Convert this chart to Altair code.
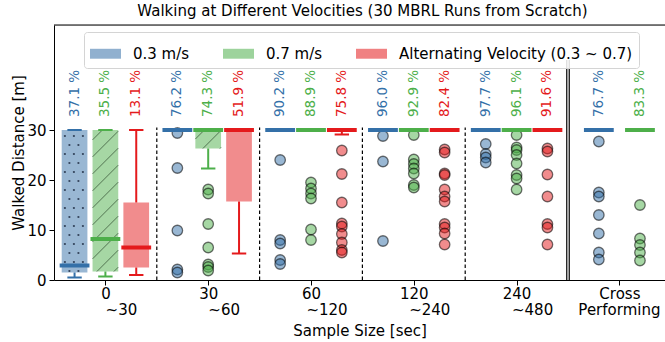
import altair as alt
import pandas as pd
import numpy as np

# ---------------- data ----------------
group_line1 = ["0", "30", "60", "120", "240", "Cross"]
group_line2 = ["~30", "~60", "~120", "~240", "~480", "Performing"]
series = ["0.3 m/s", "0.7 m/s", "Alternating Velocity (0.3 ~ 0.7)"]
colors = ["#3470a8", "#4daf4a", "#e41a1c"]

# success percentages per group (None = not run)
pct_03 = [37.1, 76.2, 90.2, 96.0, 97.7, 76.7]
pct_07 = [35.5, 74.3, 88.9, 92.9, 96.1, 83.3]
pct_alt = [13.1, 51.9, 75.8, 82.4, 91.6, None]

# box statistics per group: [whisker low, q1, median, q3, whisker high]
box_03 = [[0.5, 1.5, 2.9, 30, 30], [30, 30, 30, 30, 30], [30, 30, 30, 30, 30],
          [30, 30, 30, 30, 30], [30, 30, 30, 30, 30], [30, 30, 30, 30, 30]]
box_07 = [[0.7, 1.7, 8.2, 30, 30], [22.3, 26.3, 30, 30, 30], [30, 30, 30, 30, 30],
          [30, 30, 30, 30, 30], [30, 30, 30, 30, 30], [30, 30, 30, 30, 30]]
box_alt = [[1.0, 2.5, 6.5, 15.5, 30], [5.3, 15.7, 30, 30, 30], [29.1, 29.6, 30, 30, 30],
           [30, 30, 30, 30, 30], [30, 30, 30, 30, 30], None]

# outliers per group
fl_03 = [[], [29.4, 22.4, 9.9, 2.1, 1.5], [24.0, 8.0, 7.3, 4.0, 3.2],
         [28.8, 23.7, 7.8], [27.2, 25.2, 24.5, 23.5],
         [27.7, 17.5, 16.7, 13.0, 9.3, 5.5, 4.1]]
fl_07 = [[], [18.1, 17.3, 11.2, 6.5, 3.1, 2.6, 1.9], [19.5, 18.3, 17.3, 16.3, 10.1, 8.0],
         [29.0, 24.1, 23.2, 22.3, 21.3, 19.0, 18.5],
         [29.0, 26.5, 26.0, 25.0, 23.3, 21.0, 20.3, 18.1],
         [15.0, 8.3, 7.0, 5.5, 3.9]]
fl_alt = [[], [], [25.9, 21.2, 15.5, 11.3, 10.7, 9.2, 7.5, 6.0, 5.5],
          [26.1, 25.5, 21.3, 21.0, 18.1, 16.7, 15.7, 11.2, 10.5, 9.3, 7.1],
          [26.3, 25.7, 21.1, 16.7, 11.2, 10.5, 7.1], []]

# ---------------- layout ----------------
PAD_L, PAD_T, PAD_B = 54, 25, 62
W, H = 665 - PAD_L, 342 - PAD_T - PAD_B
XMIN = -0.5
XMAX = XMIN + W / 102.8
YMAX = 51
SX = W / (XMAX - XMIN)   # px per x unit
SY = H / YMAX            # px per y unit
BOX_W, MED_W, CAP_W = 0.25, 0.29, 0.14
FONT = "DejaVu Sans"

pcts = [pct_03, pct_07, pct_alt]
boxes = [box_03, box_07, box_alt]
fliers = [fl_03, fl_07, fl_alt]

box_rows, flier_rows, pct_rows = [], [], []
for g in range(len(group_line1)):
    present = [s for s in range(3) if boxes[s][g] is not None]
    offs = [-0.3, 0.0, 0.3] if len(present) == 3 else [-0.2, 0.2]
    for o, s in zip(offs, present):
        xc = g + o
        lo, q1, md, q3, hi = boxes[s][g]
        box_rows.append(dict(series=series[s], x=xc, xl=xc - BOX_W / 2, xh=xc + BOX_W / 2,
                             ml=xc - MED_W / 2, mh=xc + MED_W / 2,
                             cl=xc - CAP_W / 2, ch=xc + CAP_W / 2,
                             lo=lo, q1=q1, med=md, q3=q3, hi=hi))
        for v in fliers[s][g]:
            flier_rows.append(dict(series=series[s], x=xc, y=v))
        pct_rows.append(dict(series=series[s], x=xc, txt=f"{pcts[s][g]:.1f} %"))

box_df = pd.DataFrame(box_rows)
flier_df = pd.DataFrame(flier_rows)
pct_df = pd.DataFrame(pct_rows)
lab2_df = pd.DataFrame({"x": list(range(len(group_line2))), "lab": group_line2})

# textures (matplotlib hatches): dots for 0.3 m/s, '/' lines for 0.7 m/s
dot_rows, hatch_rows = [], []
for r in box_rows:
    if r["q3"] - r["q1"] <= 0.5:
        continue
    X0, X1 = r["xl"] * SX, r["xh"] * SX
    Y0, Y1 = r["q1"] * SY, r["q3"] * SY
    if r["series"] == series[0]:
        step = 9.0
        for i, Y in enumerate(np.arange(np.ceil(Y0 / step) * step, Y1 - 1, step)):
            shift = step / 2 if i % 2 else 0
            for X in np.arange(np.ceil((X0 - shift) / step) * step + shift, X1 - 1.5, step):
                if X > X0 + 1.5:
                    dot_rows.append(dict(x=X / SX, y=Y / SY))
    elif r["series"] == series[1]:
        step = 17.0
        for c in np.arange(np.floor((Y0 - X1) / step) * step, Y1 - X0 + step, step):
            xa = max(X0, Y0 - c)
            xb = min(X1, Y1 - c)
            if xb - xa > 0.5:
                hatch_rows.append(dict(x=xa / SX, y=(xa + c) / SY, x2=xb / SX, y2=(xb + c) / SY))
dot_df = pd.DataFrame(dot_rows)
hatch_df = pd.DataFrame(hatch_rows)

sep_df = pd.DataFrame({"x": [g + 0.5 for g in range(len(group_line1) - 2)]})
dbl_df = pd.DataFrame({"x": [len(group_line1) - 1.5 - 0.012, len(group_line1) - 1.5 + 0.012]})

# ---------------- encodings ----------------
xscale = alt.Scale(domain=[XMIN, XMAX], nice=False, zero=False)
yscale = alt.Scale(domain=[0, YMAX], nice=False, zero=True)
cscale = alt.Scale(domain=series, range=colors)

label_expr = "[" + ",".join("'%s'" % a for a in group_line1) + "][round(datum.value)]"

xaxis = alt.Axis(values=list(range(len(group_line1))), labelExpr=label_expr, grid=False,
                 tickSize=5, tickColor="black", domainColor="black", labelColor="black",
                 labelFont=FONT, labelFontSize=15, labelPadding=1,
                 labelBaseline="top", labelFlush=False, labelOverlap=False,
                 title="Sample Size [sec]", titleFont=FONT, titleFontSize=15,
                 titleFontWeight="normal", titleColor="black", titlePadding=22)
yaxis = alt.Axis(values=[0, 10, 20, 30], grid=False, tickSize=5, tickColor="black",
                 domainColor="black", labelColor="black", labelFont=FONT, labelFontSize=15,
                 labelPadding=3, labelFlush=False,
                 title="Walked Distance [m]", titleFont=FONT, titleFontSize=15,
                 titleFontWeight="normal", titleColor="black", titlePadding=0)


def X(field):
    return alt.X(field, type="quantitative", scale=xscale, axis=xaxis)


def Y(field):
    return alt.Y(field, type="quantitative", scale=yscale, axis=yaxis)


def YD(val):
    return alt.Y(datum=val, type="quantitative", scale=yscale, axis=yaxis)


legend = alt.Legend(title=None, orient="none", legendX=30, legendY=7, direction="horizontal",
                    symbolType="M-1,-0.32H1V0.32H-1Z", symbolSize=961, symbolOpacity=0.55,
                    symbolStrokeWidth=0, labelFont=FONT, labelFontSize=15, labelColor="black",
                    labelLimit=400, labelOffset=12, columnPadding=33, padding=6,
                    strokeColor="#d4d4d4", fillColor="rgba(255,255,255,0.85)", cornerRadius=3)

col_nl = alt.Color("series:N", scale=cscale, legend=None)
base_box = alt.Chart(box_df)

rects = base_box.mark_rect(opacity=0.5).encode(
    x=X("xl"), x2="xh", y=Y("q1"), y2="q3",
    color=alt.Color("series:N", scale=cscale, legend=legend),
)

layers = [rects]
if len(dot_df):
    layers.append(alt.Chart(dot_df).mark_circle(size=5, color="#27354d", opacity=0.9).encode(
        x=X("x"), y=Y("y")))
if len(hatch_df):
    layers.append(alt.Chart(hatch_df).mark_rule(color="#3c5a3c", strokeWidth=1, opacity=0.8).encode(
        x=X("x"), x2="x2", y=Y("y"), y2="y2"))

whisk_lo = base_box.mark_rule(strokeWidth=2).encode(x=X("x"), y=Y("lo"), y2="q1", color=col_nl)
whisk_hi = base_box.mark_rule(strokeWidth=2).encode(x=X("x"), y=Y("q3"), y2="hi", color=col_nl)
cap_lo = base_box.mark_rule(strokeWidth=2).encode(x=X("cl"), x2="ch", y=Y("lo"), color=col_nl)
cap_hi = base_box.mark_rule(strokeWidth=2).encode(x=X("cl"), x2="ch", y=Y("hi"), color=col_nl)

flier_pts = alt.Chart(flier_df).mark_point(
    filled=True, size=110, fillOpacity=0.5, stroke="black", strokeOpacity=0.55, strokeWidth=1.3,
    shape="circle").encode(
    x=X("x"), y=Y("y"),
    fill=alt.Fill("series:N", scale=cscale, legend=None))

median = base_box.mark_rule(strokeWidth=4).encode(x=X("ml"), x2="mh", y=Y("med"), color=col_nl)

pct_text = alt.Chart(pct_df).mark_text(angle=270, align="left", baseline="middle",
                                       font=FONT, fontSize=13.5).encode(
    x=X("x"), y=Y("ybase"), text="txt:N", color=col_nl).transform_calculate(ybase="32.6")

seps = alt.Chart(sep_df).mark_rule(color="black", strokeDash=[3.5, 2.5], strokeWidth=1.2).encode(
    x=X("x"), y=YD(0), y2=alt.Y2(datum=30.5))

dbl = alt.Chart(dbl_df).mark_rule(color="black", strokeWidth=1.2).encode(
    x=X("x"), y=YD(0), y2=alt.Y2(datum=44))

top = alt.Chart(pd.DataFrame({"a": [0]})).mark_rule(color="black", strokeWidth=1).encode(
    x=alt.value(0), x2=alt.value(W), y=alt.value(0))

# second line of the x tick labels (matplotlib-style offset)
lab2_shift = alt.Chart(lab2_df).transform_filter("datum.lab != 'Performing'").mark_text(
    baseline="top", align="center", dx=16, font=FONT, fontSize=15, color="black").encode(
    x=X("x"), y=alt.value(H + 23), text="lab:N")
lab2_center = alt.Chart(lab2_df).transform_filter("datum.lab == 'Performing'").mark_text(
    baseline="top", align="center", font=FONT, fontSize=15, color="black").encode(
    x=X("x"), y=alt.value(H + 23), text="lab:N")

layers += [whisk_lo, whisk_hi, cap_lo, cap_hi, flier_pts, median, pct_text, seps, dbl, top,
           lab2_shift, lab2_center]

chart = alt.layer(*layers).properties(
    width=W, height=H,
    autosize=alt.AutoSizeParams(type="none"),
    padding={"left": PAD_L, "top": PAD_T, "right": 0, "bottom": PAD_B},
    title=alt.TitleParams("Walking at Different Velocities (30 MBRL Runs from Scratch)",
                          font=FONT, fontSize=15, fontWeight="normal", color="black",
                          anchor="middle", offset=6, dx=3),
).configure_view(stroke=None, clip=False).configure(background="white")

chart.save("out.html", embed_options={"renderer": "svg", "actions": False})
